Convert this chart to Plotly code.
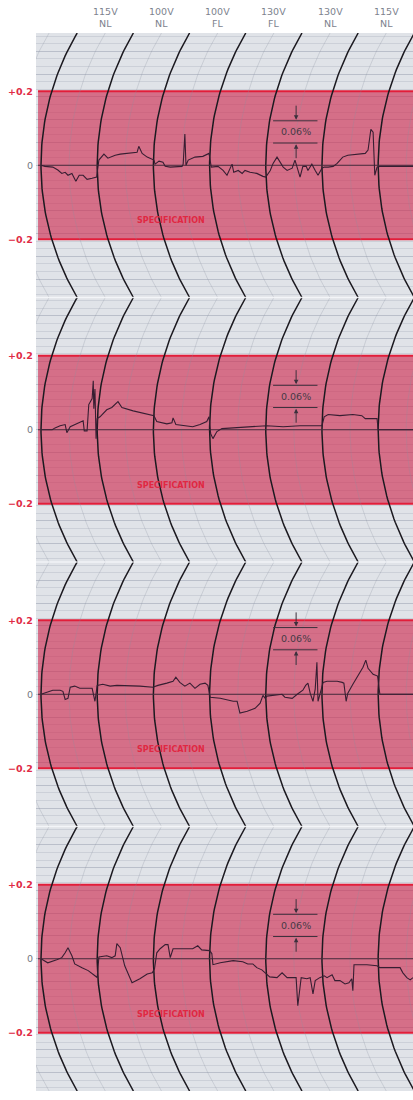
import numpy as np
import plotly.graph_objects as go
from plotly.subplots import make_subplots

# ---------------------------------------------------------------- data ----
# Test sequence applied across each record (one step per chart division)
step_volts = ["115V", "100V", "100V", "130V", "130V", "115V"]
step_loads = ["NL", "NL", "FL", "FL", "NL", "NL"]

# Four regulator records: time in chart divisions, output deviation in %
t1 = [0.00, 0.07, 0.21, 0.30, 0.37, 0.43, 0.48, 0.55, 0.62, 0.68,
      0.75, 0.82, 0.91, 0.99, 1.03, 1.12, 1.19, 1.32, 1.41, 1.53,
      1.64, 1.71, 1.74, 1.80, 1.89, 1.98, 2.01, 2.03, 2.10, 2.17,
      2.21, 2.30, 2.42, 2.51, 2.53, 2.56, 2.58, 2.62, 2.74, 2.88,
      2.99, 3.03, 3.15, 3.24, 3.31, 3.36, 3.40, 3.43, 3.51, 3.58,
      3.63, 3.72, 3.84, 3.95, 4.00, 4.08, 4.13, 4.20, 4.25, 4.31,
      4.38, 4.47, 4.52, 4.61, 4.66, 4.72, 4.75, 4.82, 4.88, 4.93,
      5.00, 5.04, 5.11, 5.20, 5.27, 5.37, 5.46, 5.62, 5.77, 5.82,
      5.87, 5.91, 5.93, 5.94, 5.98, 6.03, 6.62]
v1 = [0.000, -0.003, -0.005, -0.013, -0.022, -0.019, -0.027, -0.022, -0.043, -0.027,
      -0.027, -0.038, -0.035, -0.032, 0.014, 0.030, 0.019, 0.027, 0.030, 0.032,
      0.032, 0.035, 0.051, 0.032, 0.022, 0.016, 0.014, 0.003, 0.011, 0.008,
      -0.003, -0.005, -0.005, -0.003, 0.003, 0.084, 0.000, 0.014, 0.022, 0.024,
      0.032, -0.005, -0.003, -0.014, -0.027, -0.008, 0.003, -0.019, -0.014, -0.022,
      -0.014, -0.019, -0.022, -0.030, -0.032, -0.014, 0.005, 0.022, 0.008, -0.005,
      -0.014, -0.008, 0.014, -0.032, -0.003, -0.003, -0.014, 0.003, -0.014, -0.027,
      -0.008, -0.005, -0.005, -0.003, 0.005, 0.022, 0.027, 0.030, 0.032, 0.041,
      0.097, 0.089, 0.014, -0.027, -0.005, -0.003, -0.003]

t2 = [0.00, 0.20, 0.25, 0.34, 0.43, 0.46, 0.52, 0.64, 0.75, 0.77,
      0.82, 0.85, 0.91, 0.93, 0.94, 0.96, 0.98, 1.00, 1.05, 1.17,
      1.26, 1.37, 1.44, 1.64, 1.89, 2.01, 2.06, 2.24, 2.33, 2.35,
      2.40, 2.60, 2.70, 2.83, 2.95, 2.99, 3.02, 3.06, 3.13, 3.22,
      3.42, 3.72, 4.02, 4.31, 4.61, 5.00, 5.04, 5.11, 5.32, 5.55,
      5.71, 5.77, 5.98, 6.00, 6.62]
v2 = [0.000, 0.000, 0.005, 0.011, 0.014, -0.008, 0.008, 0.016, 0.024, -0.003,
      -0.003, 0.068, 0.084, 0.132, 0.057, 0.110, -0.024, 0.030, 0.035, 0.054,
      0.060, 0.076, 0.060, 0.051, 0.043, 0.038, 0.022, 0.016, 0.019, 0.032,
      0.014, 0.011, 0.008, 0.014, 0.022, 0.035, -0.011, -0.024, -0.005, 0.003,
      0.005, 0.008, 0.011, 0.008, 0.011, 0.011, 0.035, 0.041, 0.038, 0.041,
      0.038, 0.030, 0.030, 0.000, 0.000]

t3 = [0.00, 0.11, 0.21, 0.34, 0.39, 0.43, 0.48, 0.52, 0.60, 0.69,
      0.82, 0.91, 0.96, 1.00, 1.10, 1.23, 1.35, 1.46, 1.58, 1.76,
      1.99, 2.08, 2.24, 2.35, 2.40, 2.47, 2.56, 2.65, 2.74, 2.83,
      2.92, 2.97, 3.01, 3.19, 3.42, 3.49, 3.54, 3.67, 3.81, 3.90,
      3.95, 3.99, 4.02, 4.13, 4.29, 4.34, 4.47, 4.56, 4.66, 4.71,
      4.75, 4.79, 4.84, 4.88, 4.91, 4.93, 4.98, 5.02, 5.09, 5.27,
      5.36, 5.39, 5.43, 5.46, 5.55, 5.66, 5.73, 5.78, 5.82, 5.91,
      5.99, 6.03, 6.62]
v3 = [0.000, 0.005, 0.011, 0.011, 0.008, -0.014, -0.011, 0.019, 0.022, 0.016,
      0.016, 0.016, -0.019, 0.024, 0.027, 0.022, 0.024, 0.024, 0.024, 0.022,
      0.019, 0.024, 0.030, 0.035, 0.046, 0.032, 0.022, 0.030, 0.016, 0.027,
      0.030, 0.024, -0.008, -0.011, -0.019, -0.019, -0.051, -0.046, -0.038, -0.024,
      -0.003, -0.011, -0.005, -0.003, 0.000, -0.008, -0.011, 0.000, 0.011, 0.024,
      0.030, 0.003, -0.019, 0.014, 0.086, -0.019, 0.008, 0.032, 0.035, 0.035,
      0.032, 0.030, -0.019, 0.003, 0.027, 0.054, 0.073, 0.092, 0.070, 0.054,
      0.049, 0.000, 0.000]

t4 = [0.00, 0.12, 0.28, 0.37, 0.43, 0.48, 0.55, 0.60, 0.73, 0.84,
      0.96, 1.00, 1.03, 1.17, 1.26, 1.32, 1.35, 1.41, 1.49, 1.62,
      1.76, 1.89, 1.98, 2.02, 2.06, 2.12, 2.21, 2.26, 2.30, 2.35,
      2.53, 2.70, 2.79, 2.86, 3.00, 3.04, 3.06, 3.19, 3.42, 3.59,
      3.68, 3.77, 3.84, 3.93, 3.99, 4.07, 4.20, 4.29, 4.38, 4.48,
      4.54, 4.57, 4.63, 4.73, 4.79, 4.84, 4.88, 4.96, 5.04, 5.09,
      5.18, 5.23, 5.32, 5.41, 5.48, 5.53, 5.55, 5.57, 5.62, 5.80,
      5.98, 6.03, 6.21, 6.39, 6.44, 6.51, 6.57, 6.62]
v4 = [0.000, -0.011, -0.003, 0.003, 0.016, 0.030, 0.008, -0.014, -0.024, -0.032,
      -0.046, -0.051, 0.005, 0.008, 0.003, 0.008, 0.041, 0.030, -0.019, -0.065,
      -0.054, -0.041, -0.038, -0.027, 0.016, 0.027, 0.038, 0.038, 0.003, 0.027,
      0.027, 0.027, 0.035, 0.024, 0.022, 0.014, -0.016, -0.011, -0.005, -0.008,
      -0.014, -0.014, -0.024, -0.030, -0.038, -0.049, -0.051, -0.038, -0.051, -0.051,
      -0.051, -0.127, -0.051, -0.054, -0.051, -0.095, -0.059, -0.051, -0.046, -0.051,
      -0.043, -0.059, -0.059, -0.068, -0.065, -0.054, -0.086, -0.016, -0.016, -0.016,
      -0.019, -0.024, -0.024, -0.024, -0.038, -0.051, -0.057, -0.051]

records = [(t1, v1), (t2, v2), (t3, v3), (t4, v4)]

spec_limit = 0.2                         # +/- specification band, %
scale_bar_span = 0.06                    # calibration bar height, %
scale_bar_base = [0.06, 0.06, 0.12, 0.06]  # lower edge of the bar per record

# ------------------------------------------------------- chart geometry ---
H = 0.357            # half height of one record strip, %
ARM = 0.70           # pen-arm radius, in % of vertical travel
DIV_PER_PCT = 6.58   # horizontal divisions per % of vertical travel
X0, X1 = -0.089, 6.62
BAND_X0 = -0.053
MINOR_DY = 0.0205
MAJOR_DY = 0.0615

PAPER = "rgb(224,227,232)"
ARC = "rgb(28,26,32)"
PEN = "rgb(55,30,50)"
RED = "rgb(226,30,58)"
FONT = "DejaVu Sans"


def arc_x(t, v):
    """Horizontal position of time line t at vertical value v (curvilinear chart)."""
    v = np.asarray(v, dtype=float)
    return t + (ARM - np.sqrt(ARM ** 2 - v ** 2)) * DIV_PER_PCT


def arc_family(starts):
    vv = np.linspace(-H, H, 81)
    xs, ys = [], []
    for s in starts:
        xs += list(arc_x(s, vv)) + [None]
        ys += list(vv) + [None]
    return xs, ys


major_arcs = arc_family(range(-1, 8))
minor_arcs = arc_family(np.arange(-0.5, 7.5, 1.0))

fig = make_subplots(rows=4, cols=1, vertical_spacing=0)

for r, (tt, vv) in enumerate(records, start=1):
    sfx = "" if r == 1 else str(r)
    xr, yr = "x" + sfx, "y" + sfx

    fig.add_trace(go.Scatter(x=minor_arcs[0], y=minor_arcs[1], mode="lines",
                             line=dict(color="rgba(140,146,162,0.35)", width=0.8),
                             hoverinfo="skip", showlegend=False), row=r, col=1)
    fig.add_trace(go.Scatter(x=major_arcs[0], y=major_arcs[1], mode="lines",
                             line=dict(color=ARC, width=1.5),
                             hoverinfo="skip", showlegend=False), row=r, col=1)
    fig.add_trace(go.Scatter(x=[BAND_X0, X1], y=[0, 0], mode="lines",
                             line=dict(color="rgb(70,45,60)", width=1),
                             hoverinfo="skip", showlegend=False), row=r, col=1)
    fig.add_trace(go.Scatter(x=tt, y=vv, mode="lines",
                             line=dict(color=PEN, width=1.1),
                             hoverinfo="skip", showlegend=False), row=r, col=1)

    # specification band and its limits
    fig.add_shape(type="rect", xref=xr, yref=yr, x0=BAND_X0, x1=X1 + 0.2,
                  y0=-spec_limit, y1=spec_limit, line_width=0,
                  fillcolor="rgba(206,40,78,0.62)", layer="between")
    for lim in (spec_limit, -spec_limit):
        fig.add_shape(type="line", xref=xr, yref=yr, x0=BAND_X0, x1=X1 + 0.2,
                      y0=lim, y1=lim, line=dict(color=RED, width=2), layer="between")

    # 0.06 % calibration bar
    lo = scale_bar_base[r - 1]
    hi = lo + scale_bar_span
    for yv in (lo, hi):
        fig.add_shape(type="line", xref=xr, yref=yr, x0=4.13, x1=4.92,
                      y0=yv, y1=yv, line=dict(color="rgb(60,48,60)", width=1),
                      layer="above")
    fig.add_annotation(xref=xr, yref=yr, x=4.53, y=(lo + hi) / 2,
                       text="0.06%", showarrow=False,
                       font=dict(family=FONT, size=9.5, color="rgb(70,58,70)"))
    for head, tail in ((hi + 0.003, hi + 0.045), (lo - 0.003, lo - 0.045)):
        fig.add_annotation(xref=xr, yref=yr, axref=xr, ayref=yr,
                           x=4.54, y=head, ax=4.54, ay=tail, text="",
                           showarrow=True, arrowhead=2, arrowsize=0.9,
                           arrowwidth=1, arrowcolor="rgb(60,48,60)")

    fig.add_annotation(xref=xr, yref=yr, x=2.31, y=-0.15, text="<b>SPECIFICATION</b>",
                       showarrow=False,
                       font=dict(family=FONT, size=8, color="rgb(224,40,66)"))

    # vertical scale labels
    for val, txt, col in ((spec_limit, "<b>+0.2</b>", "rgb(224,44,70)"),
                          (0, "0", "rgb(115,118,128)"),
                          (-spec_limit, "<b>\u22120.2</b>", "rgb(224,44,70)")):
        fig.add_annotation(xref="paper", yref=yr, x=0, y=val, text=txt,
                           xanchor="right", xshift=-1, showarrow=False,
                           font=dict(family=FONT, size=9.5, color=col))

# step labels above the first record, centred between time lines
for n, (a, b) in enumerate(zip(step_volts, step_loads)):
    fig.add_annotation(xref="x", yref="paper", x=float(arc_x(n + 0.5, H)), y=1,
                       yanchor="bottom", yshift=2, showarrow=False,
                       text=f"{a}<br>{b}",
                       font=dict(family=FONT, size=9.5, color="rgb(125,130,142)"))

# folds between the record strips
for yp in (0.25, 0.5, 0.75):
    fig.add_shape(type="line", xref="paper", yref="paper", x0=0, x1=1,
                  y0=yp, y1=yp, line=dict(color="rgba(246,247,250,0.8)", width=1.5),
                  layer="above")

fig.update_xaxes(range=[X0, X1], showgrid=False, zeroline=False,
                 showticklabels=False, showline=False, ticks="")
fig.update_yaxes(range=[-H, H], tick0=0, dtick=MAJOR_DY, showgrid=True,
                 gridcolor="rgb(186,191,202)", gridwidth=1,
                 minor=dict(dtick=MINOR_DY, showgrid=True,
                            gridcolor="rgb(204,208,216)", gridwidth=0.7),
                 zeroline=False, showticklabels=False, showline=False, ticks="")

fig.update_layout(width=413, height=1100,
                  margin=dict(l=36, r=0, t=33, b=9),
                  paper_bgcolor="white", plot_bgcolor=PAPER,
                  showlegend=False)

fig.write_html("out.html")
